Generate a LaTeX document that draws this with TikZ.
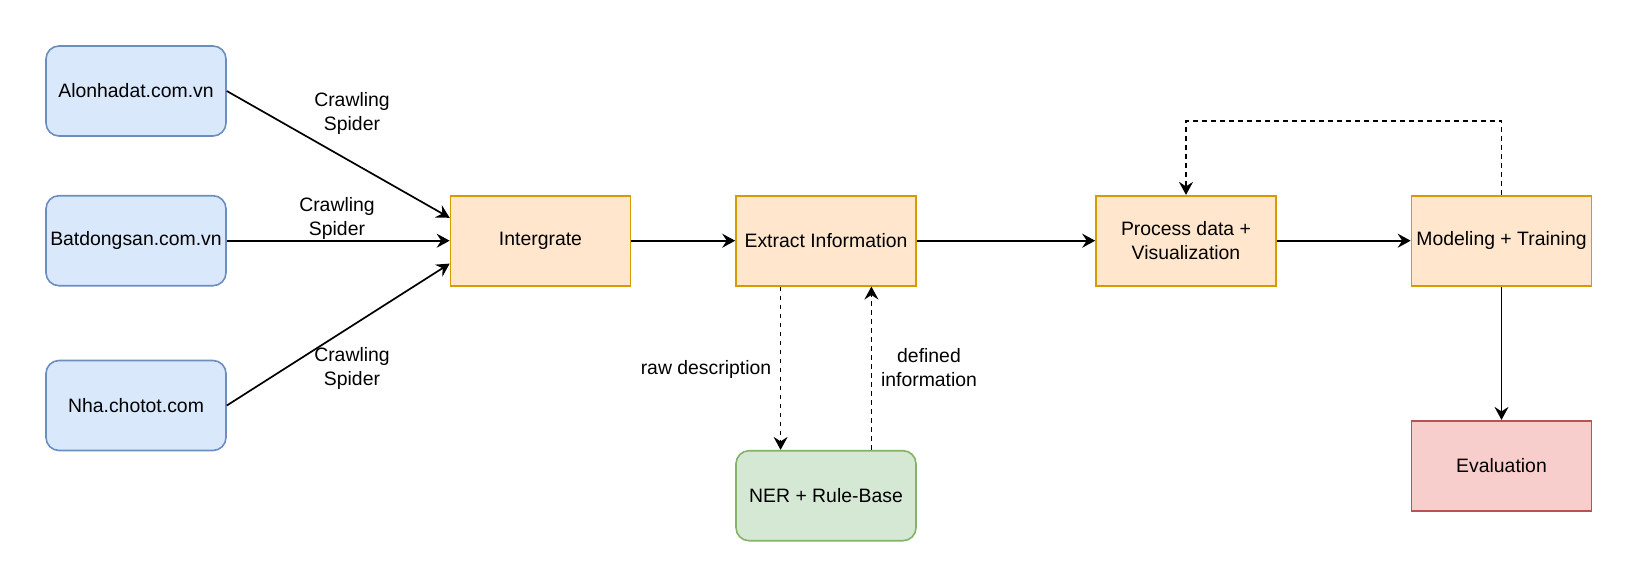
\documentclass[tikz,border=0pt]{standalone}
\usepackage{fontspec}
\setmainfont{Liberation Sans}
\usetikzlibrary{arrows.meta,calc}
\definecolor{bfill}{HTML}{DAE8FC}\definecolor{bdraw}{HTML}{6C8EBF}
\definecolor{ofill}{HTML}{FFE6CC}\definecolor{odraw}{HTML}{D79B00}
\definecolor{gfill}{HTML}{D5E8D4}\definecolor{gdraw}{HTML}{82B366}
\definecolor{rfill}{HTML}{F8CECC}\definecolor{rdraw}{HTML}{B85450}
\tikzset{
  box/.style={minimum width=180pt,minimum height=90pt,inner sep=0pt,line width=1.6pt,align=center,
    font=\fontsize{19.4}{23.5}\selectfont},
  bluebox/.style={box,rounded corners=13pt,fill=bfill,draw=bdraw},
  orangebox/.style={box,fill=ofill,draw=odraw},
  greenbox/.style={box,rounded corners=13pt,fill=gfill,draw=gdraw},
  redbox/.style={box,fill=rfill,draw=rdraw},
  lbl/.style={align=center,inner sep=0pt,font=\fontsize{19.4}{24}\selectfont},
  conn/.style={line width=1.7pt,-{Stealth[length=13pt,width=14pt,inset=4.5pt]}},
  dconn/.style={conn,dash pattern=on 4.5pt off 4.5pt}
}
\begin{document}
\begin{tikzpicture}[x=1pt,y=-1pt]
\useasboundingbox (0,0) rectangle (1637,587);
\node[bluebox] (alo) at (136,91) {Alonhadat.com.vn};
\node[bluebox] (bat) at (136,240.7) {Batdongsan.com.vn};
\node[bluebox] (nha) at (136,405.5) {Nha.chotot.com};
\node[orangebox] (int) at (540.5,240.7) {Intergrate};
\node[orangebox] (ext) at (826,240.7) {Extract Information};
\node[greenbox] (ner) at (826,495.7) {NER + Rule-Base};
\node[orangebox] (proc) at (1186,240.7) {Process data +\\Visualization};
\node[orangebox] (mod) at (1501.5,240.7) {Modeling + Training};
\node[redbox] (eval) at (1501.5,465.7) {Evaluation};
\coordinate (intA) at ($(int.north west)!0.25!(int.south west)$);
\coordinate (intC) at ($(int.north west)!0.75!(int.south west)$);
\coordinate (extD) at ($(ext.south west)!0.25!(ext.south east)$);
\coordinate (extU) at ($(ext.south west)!0.75!(ext.south east)$);
\coordinate (nerD) at ($(ner.north west)!0.25!(ner.north east)$);
\coordinate (nerU) at ($(ner.north west)!0.75!(ner.north east)$);
\coordinate (top) at (1501.5,120.7);
\draw[conn] (alo.east) -- (intA);
\draw[conn] (bat.east) -- (int.west);
\draw[conn] (nha.east) -- (intC);
\draw[conn] (int.east) -- (ext.west);
\draw[conn] (ext.east) -- (proc.west);
\draw[conn] (proc.east) -- (mod.west);
\draw[conn] (mod.south) -- (eval.north);
\draw[dconn] (extD) -- (nerD);
\draw[dconn] (nerU) -- (extU);
\draw[dconn] (mod.north) -- (top) -| (proc.north);
\node[lbl] (l1) at (352,113) {Crawling\\Spider};
\node[lbl] (l2) at (337,218) {Crawling\\Spider};
\node[lbl] (l3) at (352,368) {Crawling\\Spider};
\node[lbl] (l4) at (706,369) {raw description};
\node[lbl] (l5) at (929,368) {defined\\information};
\end{tikzpicture}
\end{document}
